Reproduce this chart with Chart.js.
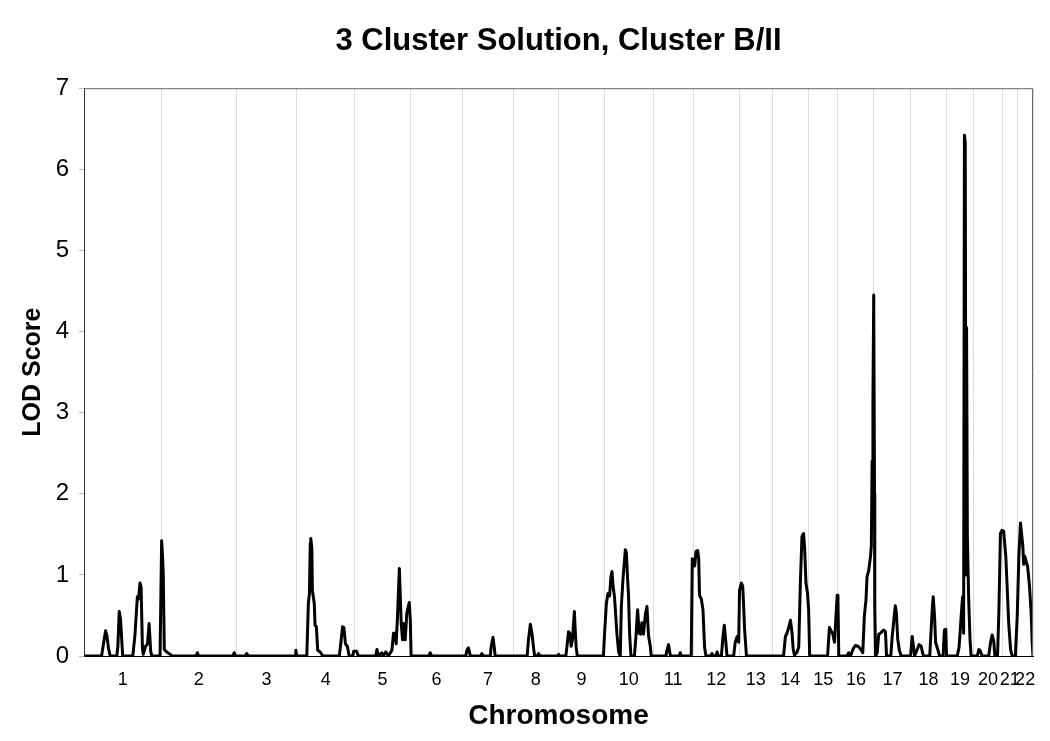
<!DOCTYPE html>
<html>
<head>
<meta charset="utf-8">
<script src="https://cdn.jsdelivr.net/npm/chart.js@4.4.1/dist/chart.umd.min.js"></script>
<style>
  html, body { margin: 0; padding: 0; background: #fff; }
</style>
</head>
<body>
<canvas id="lodChart" width="1050" height="741"></canvas>
<script>
const chromosomes = ['1','2','3','4','5','6','7','8','9','10','11','12','13','14','15','16','17','18','19','20','21','22'];
const chromLengths = [291, 279, 228, 217, 208, 197, 188, 171, 172, 182, 150, 174, 122, 137, 110, 135, 138, 132, 104, 106, 57, 59];

// genome-wide map position (cM) and LOD score of the trace
const mapPos = [
  0, 66, 73, 81, 86, 91, 98, 123, 127, 132, 137, 145,
  183, 191, 200, 204, 210, 214, 219, 222, 231, 238, 244, 250, 254,
  285, 291, 294, 297, 301, 310, 323, 330, 420, 425, 430, 558, 563, 567,
  605, 610, 615, 791, 794, 797,
  835, 841, 845, 848, 850, 854, 856, 863, 866, 871, 876, 885, 895,
  957, 963, 969, 974, 980, 987, 994, 1007, 1011, 1022, 1028,
  1093, 1098, 1104, 1116, 1122, 1131, 1141, 1154, 1160, 1166, 1170, 1175, 1182,
  1189, 1194, 1197, 1204, 1210, 1219, 1223, 1226,
  1292, 1298, 1303, 1431, 1435, 1441, 1448, 1487, 1491, 1496,
  1523, 1526, 1533, 1538, 1541,
  1661, 1666, 1673, 1679, 1685, 1689, 1699, 1704, 1708, 1774, 1779, 1783,
  1806, 1810, 1816, 1821, 1826, 1831, 1838, 1841, 1845, 1849,
  1947, 1951, 1958, 1964, 1970, 1975, 1979, 1983, 1988, 1991, 1998, 2004, 2010,
  2014, 2020, 2029, 2033, 2037, 2041, 2045, 2050,
  2063, 2069, 2075, 2081, 2086, 2091, 2097, 2104, 2110, 2116, 2123, 2126,
  2181, 2185, 2191, 2198, 2231, 2235, 2239,
  2276, 2280, 2285, 2289, 2294, 2300, 2304, 2307, 2314, 2320, 2326, 2331,
  2349, 2354, 2359, 2368, 2373, 2378,
  2389, 2395, 2400, 2405, 2410,
  2435, 2441, 2448, 2454, 2457, 2464, 2469, 2472, 2476, 2483,
  2622, 2629, 2635, 2641, 2648, 2654, 2658, 2663, 2673, 2679,
  2685, 2691, 2697, 2701, 2706, 2712, 2716, 2720,
  2787, 2794, 2800, 2806, 2813, 2817, 2823, 2826, 2829,
  2860, 2866, 2873, 2883, 2891, 2901, 2910, 2919,
  2925, 2931, 2935, 2941, 2948, 2951, 2954, 2957, 2960, 2963, 2964, 2967,
  2973, 2979, 2985, 2991, 2997, 3004, 3008,
  3024, 3029, 3038, 3041, 3045, 3050, 3056, 3063,
  3098, 3104, 3109, 3113, 3123, 3130, 3138, 3143, 3147,
  3170, 3175, 3180, 3183, 3188, 3192, 3200, 3207, 3220, 3225, 3230, 3233,
  3273, 3280, 3288, 3293, 3297, 3300, 3303, 3306, 3308, 3311, 3316, 3321, 3325,
  3348, 3354, 3360, 3366, 3391, 3398, 3404, 3410, 3414,
  3424, 3429, 3435, 3441, 3447, 3455, 3460, 3466, 3473, 3479,
  3491, 3498, 3504, 3510, 3514, 3519, 3522, 3526, 3531, 3537, 3544, 3550, 3554, 3557
];
const lodScore = [
  0, 0, 0.15, 0.31, 0.25, 0.11, 0, 0, 0.12, 0.55, 0.45, 0,
  0, 0.26, 0.73, 0.70, 0.90, 0.85, 0.10, 0.02, 0.12, 0.15, 0.40, 0.06, 0,
  0, 1.42, 1.25, 1.02, 0.08, 0.05, 0.02, 0, 0, 0.04, 0, 0, 0.04, 0,
  0, 0.03, 0, 0, 0.07, 0,
  0, 0.65, 0.77, 1.39, 1.45, 1.33, 0.81, 0.65, 0.38, 0.36, 0.07, 0.05, 0,
  0, 0.17, 0.36, 0.35, 0.15, 0.12, 0, 0, 0.06, 0.06, 0,
  0, 0.08, 0, 0.04, 0, 0.05, 0, 0.07, 0.28, 0.28, 0.15, 0.48, 1.08,
  0.40, 0.20, 0.40, 0.20, 0.53, 0.66, 0.45, 0,
  0, 0.04, 0, 0, 0.07, 0.10, 0, 0, 0.03, 0,
  0, 0.11, 0.23, 0.10, 0,
  0, 0.20, 0.39, 0.28, 0.10, 0, 0, 0.03, 0, 0, 0.02, 0,
  0, 0.11, 0.30, 0.28, 0.12, 0.20, 0.55, 0.33, 0.10, 0,
  0, 0.27, 0.65, 0.77, 0.74, 0.98, 1.04, 0.86, 0.74, 0.60, 0.25, 0.05, 0,
  0.61, 0.94, 1.31, 1.27, 0.98, 0.74, 0.27, 0,
  0, 0.25, 0.57, 0.28, 0.27, 0.41, 0.27, 0.51, 0.61, 0.25, 0.11, 0,
  0, 0.07, 0.14, 0, 0, 0.04, 0,
  0, 1.20, 1.18, 1.11, 1.29, 1.30, 1.20, 0.75, 0.70, 0.57, 0.11, 0,
  0, 0.03, 0, 0, 0.05, 0,
  0, 0.24, 0.38, 0.20, 0,
  0, 0.17, 0.24, 0.17, 0.81, 0.90, 0.86, 0.65, 0.33, 0,
  0, 0.24, 0.28, 0.35, 0.44, 0.28, 0.09, 0.01, 0.05, 0.11,
  0.90, 1.47, 1.51, 1.33, 0.90, 0.77, 0.57, 0,
  0, 0.35, 0.31, 0.28, 0.17, 0.40, 0.75, 0.71, 0,
  0, 0.04, 0, 0.09, 0.13, 0.12, 0.09, 0.04,
  0.50, 0.69, 0.98, 1.05, 1.23, 1.35, 2.40, 3.10, 4.45, 2.00, 0.60, 0,
  0.04, 0.27, 0.28, 0.30, 0.32, 0.30, 0,
  0, 0.23, 0.53, 0.62, 0.53, 0.21, 0.07, 0,
  0, 0.24, 0.12, 0, 0.08, 0.14, 0.12, 0.04, 0,
  0, 0.31, 0.61, 0.73, 0.49, 0.17, 0.08, 0, 0, 0.32, 0.33, 0,
  0, 0.11, 0.50, 0.73, 0.28, 6.42, 6.33, 1.00, 4.05, 1.47, 0.69, 0.20, 0,
  0, 0.08, 0.06, 0, 0, 0.17, 0.26, 0.18, 0,
  0, 0.53, 1.51, 1.55, 1.54, 1.23, 0.86, 0.40, 0.08, 0,
  0, 0.50, 1.23, 1.64, 1.51, 1.35, 1.13, 1.23, 1.17, 1.10, 0.86, 0.53, 0.16, 0
];
const yTicks = [0, 1, 2, 3, 4, 5, 6, 7];

// chromosome boundaries and label positions along the map
const bounds = [0];
chromLengths.forEach(len => bounds.push(bounds[bounds.length - 1] + len));
const centers = chromosomes.map((c, i) => (bounds[i] + bounds[i + 1]) / 2);
const boundSet = new Set(bounds);
const labelAt = new Map(centers.map((v, i) => [v, chromosomes[i]]));
const genomeEnd = bounds[bounds.length - 1];

Chart.defaults.font.family = '"Liberation Sans", Arial, sans-serif';
Chart.defaults.color = '#000';

// thin frame on top and right of the plot area
const framePlugin = {
  id: 'frame',
  afterDraw(chart) {
    const { ctx, chartArea: a } = chart;
    ctx.save();
    ctx.strokeStyle = '#666';
    ctx.lineWidth = 1;
    ctx.beginPath();
    ctx.moveTo(a.left, a.top + 0.5);
    ctx.lineTo(a.right - 0.5, a.top + 0.5);
    ctx.lineTo(a.right - 0.5, a.bottom);
    ctx.stroke();
    ctx.restore();
  }
};

new Chart(document.getElementById('lodChart'), {
  type: 'line',
  data: {
    datasets: [{
      data: mapPos.map((p, i) => ({ x: p, y: lodScore[i] })),
      borderColor: '#000',
      borderWidth: 3,
      borderJoinStyle: 'round',
      pointRadius: 0,
      tension: 0,
      fill: false
    }]
  },
  options: {
    responsive: false,
    animation: false,
    layout: { padding: { left: 0, right: 17, top: 0, bottom: 0 } },
    plugins: {
      legend: { display: false },
      tooltip: { enabled: false },
      title: {
        display: true,
        fullSize: false,
        text: '3 Cluster Solution, Cluster B/II',
        font: { size: 31, weight: 'bold' },
        color: '#000',
        padding: { top: 23, bottom: 28 }
      }
    },
    scales: {
      x: {
        type: 'linear',
        min: 0,
        max: genomeEnd,
        afterBuildTicks: scale => {
          scale.ticks = bounds.concat(centers).sort((a, b) => a - b).map(v => ({ value: v }));
        },
        afterFit: scale => { scale.height = 85; },
        ticks: {
          autoSkip: false,
          maxRotation: 0,
          minRotation: 0,
          padding: 13,
          font: { size: 18 },
          callback: value => labelAt.get(value) || ''
        },
        grid: {
          drawTicks: false,
          color: ctx => (ctx.tick && boundSet.has(ctx.tick.value)) ? '#dcdcdc' : 'rgba(0,0,0,0)',
          lineWidth: 1
        },
        border: { display: true, color: '#000', width: 1 },
        title: {
          display: true,
          text: 'Chromosome',
          font: { size: 28, weight: 'bold' },
          padding: { top: 0, bottom: 8 }
        }
      },
      y: {
        min: 0,
        max: 7,
        afterBuildTicks: scale => {
          scale.ticks = yTicks.map(v => ({ value: v }));
        },
        afterFit: scale => { scale.width = 84; },
        ticks: {
          padding: 10,
          font: { size: 24 }
        },
        grid: {
          drawOnChartArea: false,
          drawTicks: true,
          tickLength: 5,
          color: '#bbb'
        },
        border: { display: true, color: '#333', width: 1 },
        title: {
          display: true,
          text: 'LOD Score',
          font: { size: 25, weight: 'bold' },
          padding: { top: 18, bottom: 0 }
        }
      }
    }
  },
  plugins: [framePlugin]
});
</script>
</body>
</html>
